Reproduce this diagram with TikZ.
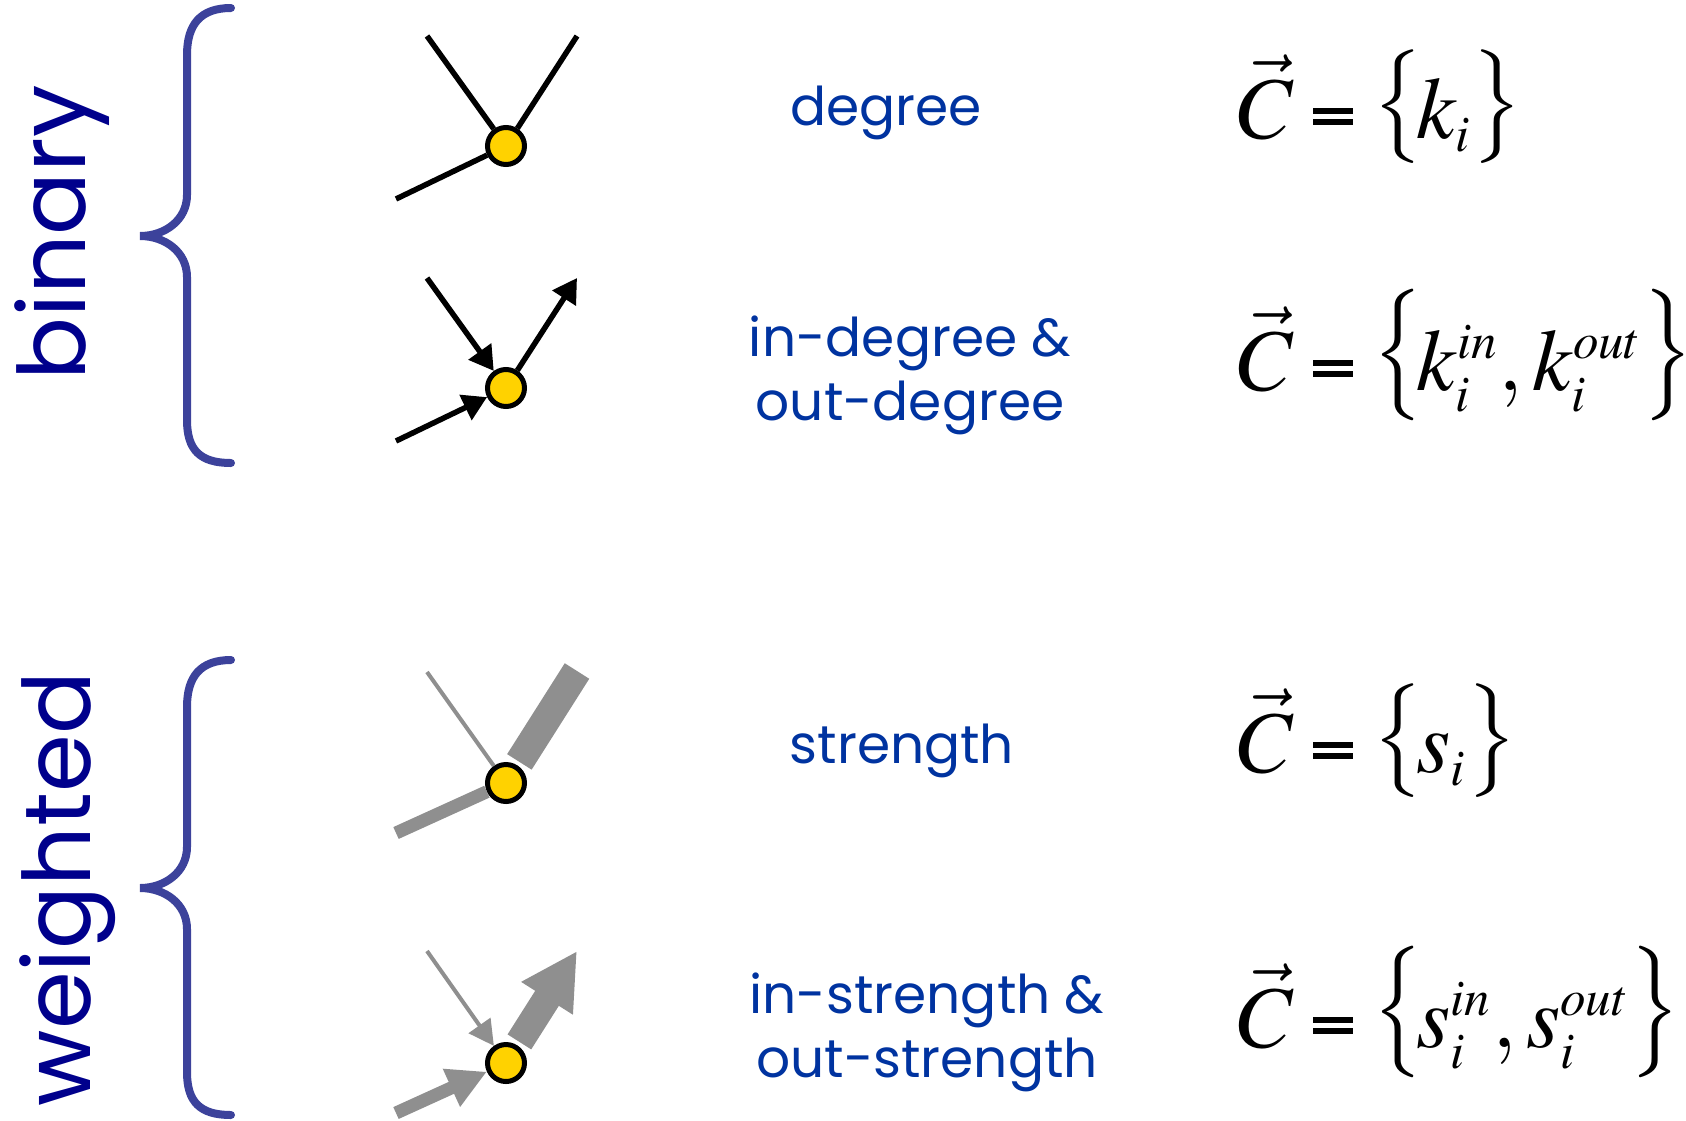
\documentclass[tikz,border=0pt]{standalone}
\usepackage{mathptmx}
\usepackage{graphicx}
\usepackage[no-math]{fontspec}
\newfontfamily\labelfont{Poppins}
\usetikzlibrary{arrows.meta}
\DeclareMathSizes{25}{25}{14.5}{11}

\definecolor{bracecol}{RGB}{60,66,155}
\definecolor{sidecol}{RGB}{0,0,140}
\definecolor{labelcol}{RGB}{0,51,160}
\definecolor{nodegold}{RGB}{255,210,0}
\definecolor{edgegray}{RGB}{143,143,143}

% short thick equals sign and raised braces of the formulas
\newcommand{\thickeq}{\mathrel{\vcenter{\offinterlineskip\hbox{\rule{0.45em}{0.068em}}\kern0.057em\hbox{\rule{0.45em}{0.068em}}}}}
\newcommand{\lbr}[1]{\mathopen{\raisebox{0.085em}{\scalebox{1}[#1]{$\bigl\{$}}\kern-0.08em}}
\newcommand{\rbr}[1]{\mathclose{\raisebox{0.085em}{\scalebox{1}[#1]{$\bigr\}$}}}}

\begin{document}
\begin{tikzpicture}[
  vertex/.style={circle, draw=black, fill=nodegold, line width=0.05cm, minimum size=0.37cm, inner sep=0pt},
  brace/.style={draw=bracecol, line width=0.08cm, line cap=round},
  side/.style={rotate=90, anchor=base, text=sidecol, font=\labelfont\fontsize{26.5}{32}\selectfont},
  measure/.style={anchor=base, text=labelcol, align=center, font=\labelfont\fontsize{15.2}{18.2}\selectfont},
  formula/.style={anchor=base west, inner sep=0pt, font=\fontsize{25}{30}\selectfont},
  bedge/.style={draw=black, line width=0.055cm},
  gedge/.style={draw=edgegray},
  btip/.style={-{Triangle[length=0.24cm, width=0.27cm]}}
]
  \useasboundingbox (0,0) rectangle (16.86,-11.20);

  % braces
  \draw[brace] (2.31,-0.08) .. controls (2.00,-0.08) and (1.87,-0.25) .. (1.87,-0.55)
    -- (1.87,-1.95) .. controls (1.87,-2.20) and (1.65,-2.36) .. (1.40,-2.36)
    .. controls (1.65,-2.36) and (1.87,-2.52) .. (1.87,-2.77)
    -- (1.87,-4.20) .. controls (1.87,-4.50) and (2.00,-4.63) .. (2.31,-4.63);
  \draw[brace] (2.31,-6.60) .. controls (2.00,-6.60) and (1.87,-6.77) .. (1.87,-7.07)
    -- (1.87,-8.47) .. controls (1.87,-8.72) and (1.65,-8.88) .. (1.40,-8.88)
    .. controls (1.65,-8.88) and (1.87,-9.04) .. (1.87,-9.29)
    -- (1.87,-10.72) .. controls (1.87,-11.02) and (2.00,-11.15) .. (2.31,-11.15);
  \node[side] (binary) at (0.85,-2.33) {binary};
  \node[side] (weighted) at (0.90,-8.89) {weighted};

  % degree
  \node[vertex] (n1) at (5.06,-1.46) {};
  \coordinate (a1) at (4.27,-0.36);
  \coordinate (b1) at (5.77,-0.36);
  \coordinate (c1) at (3.96,-1.99);
  \draw[bedge] (a1) -- (n1);
  \draw[bedge] (b1) -- (n1);
  \draw[bedge] (c1) -- (n1);

  % in-degree, out-degree
  \node[vertex] (n2) at (5.06,-3.88) {};
  \coordinate (a2) at (4.27,-2.78);
  \coordinate (b2) at (5.77,-2.78);
  \coordinate (c2) at (3.96,-4.41);
  \draw[bedge, btip] (a2) -- (n2);
  \draw[bedge, btip] (n2) -- (b2);
  \draw[bedge, btip] (c2) -- (n2);

  % strength
  \node[vertex] (n3) at (5.06,-7.83) {};
  \coordinate (a3) at (4.27,-6.72);
  \coordinate (b3) at (5.77,-6.71);
  \coordinate (c3) at (3.96,-8.33);
  \draw[gedge, line width=0.04cm] (a3) -- (n3);
  \draw[gedge, line width=0.29cm, shorten <=0.04cm] (n3) -- (b3);
  \draw[gedge, line width=0.13cm] (c3) -- (n3);

  % in-strength, out-strength
  \node[vertex] (n4) at (5.06,-10.63) {};
  \coordinate (a4) at (4.27,-9.51);
  \coordinate (b4) at (5.77,-9.51);
  \coordinate (c4) at (3.96,-11.13);
  \draw[gedge, line width=0.04cm, -{Triangle[length=0.25cm, width=0.26cm]}] (a4) -- (n4);
  \draw[gedge, line width=0.28cm, shorten <=0.04cm, -{Triangle[length=0.56cm, width=0.57cm]}] (n4) -- (b4);
  \draw[gedge, line width=0.13cm, -{Triangle[length=0.39cm, width=0.39cm]}] (c4) -- (n4);

  % labels
  \node[measure] (deg) at (8.86,-1.25) {degree};
  \node[measure] (inout) at (9.10,-4.20) {in-degree \&\\out-degree};
  \node[measure] (str) at (9.02,-7.63) {strength};
  \node[measure] (instr) at (9.27,-10.77) {in-strength \&\\out-strength};

  % formulas
  \node[formula] (f1) at (12.37,-1.38) {$\vec{C} \thickeq \lbr{1.08} k_i \rbr{1.08}$};
  \node[formula] (f2) at (12.37,-3.90) {$\vec{C} \thickeq \lbr{1.25} k_i^{in}, k_i^{out} \rbr{1.25}$};
  \node[formula] (f3) at (12.37,-7.72) {$\vec{C} \thickeq \lbr{1.08} s_i \rbr{1.08}$};
  \node[formula] (f4) at (12.37,-10.47) {$\vec{C} \thickeq \lbr{1.25} s_i^{in}, s_i^{out} \rbr{1.25}$};
\end{tikzpicture}
\end{document}
